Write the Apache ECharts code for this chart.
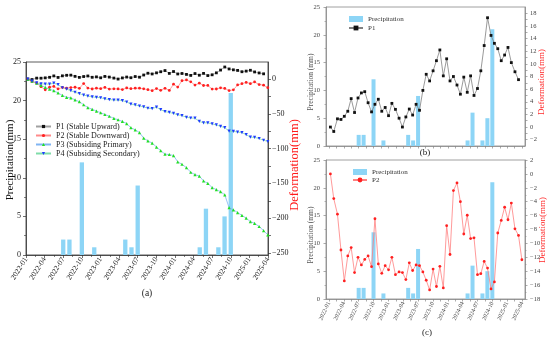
<!DOCTYPE html>
<html><head><meta charset="utf-8">
<script src="https://cdn.jsdelivr.net/npm/echarts@6/dist/echarts.min.js"></script>
<style>html,body{margin:0;padding:0;background:#fff}#c{width:550px;height:339px}</style>
</head><body><div id="c"></div>
<script>
const tickLabels = ["2022-01","2022-04","2022-07","2022-10","2023-01","2023-04","2023-07","2023-10","2024-01","2024-04","2024-07","2024-10","2025-01","2025-04"];
const precipMonths = ["2022-07","2022-08","2022-10","2022-12","2023-05","2023-06","2023-07","2024-05","2024-06","2024-08","2024-09","2024-10"];
const precipValues = [2,2,12,1,2,1,9,1,6,1,5,21];
const dates = ["2022-01-10","2022-01-31","2022-02-21","2022-03-14","2022-04-04","2022-04-25","2022-05-16","2022-06-06","2022-06-27","2022-07-18","2022-08-08","2022-08-29","2022-09-19","2022-10-10","2022-10-31","2022-11-21","2022-12-12","2023-01-02","2023-01-23","2023-02-13","2023-03-06","2023-03-27","2023-04-17","2023-05-08","2023-05-29","2023-06-19","2023-07-10","2023-07-31","2023-08-21","2023-09-11","2023-10-02","2023-10-23","2023-11-13","2023-12-04","2023-12-25","2024-01-15","2024-02-05","2024-02-26","2024-03-18","2024-04-08","2024-04-29","2024-05-20","2024-06-10","2024-07-01","2024-07-22","2024-08-12","2024-09-02","2024-09-23","2024-10-14","2024-11-04","2024-11-25","2024-12-16","2025-01-06","2025-01-27","2025-02-17","2025-03-10","2025-03-31"];
const p1 = [0.0,-0.7,1.3,1.2,1.7,2.5,4.5,2.3,4.6,5.4,5.6,3.85,2.4,3.6,4.4,2.5,3.1,1.8,3.75,2.8,1.4,0.0,1.6,2.85,1.9,3.6,2.65,5.8,8.35,7.3,8.9,10.5,12.2,8.1,10.8,7.3,8.0,6.65,5.2,7.9,5.5,8.1,5.0,6.1,8.9,12.9,17.3,14.5,13.25,12.4,10.5,11.4,12.6,10.2,8.75,7.5];
const p2 = [0.0,-3.55,-5.8,-10.95,-15.4,-11.8,-10.6,-14.2,-12.0,-13.1,-12.3,-11.8,-13.35,-6.45,-12.95,-14.3,-13.2,-13.8,-12.0,-14.5,-14.1,-14.2,-15.2,-12.8,-13.9,-13.1,-13.2,-14.1,-15.3,-16.7,-13.7,-16.2,-13.3,-16.4,-7.45,-11.6,-2.4,-1.3,-4.0,-8.65,-5.95,-9.3,-9.2,-14.5,-14.35,-12.6,-13.55,-16.55,-15.55,-8.5,-6.7,-4.8,-6.6,-4.2,-7.9,-8.85,-12.35];
const p3 = [0,-3,-6,-9,-12,-14.5,-16.8,-20,-23.5,-26.3,-27,-30,-32.6,-37,-41,-43.5,-46,-48.5,-51,-53.5,-56.6,-58.5,-61,-64,-70,-73,-77,-85,-89,-92,-97.8,-103,-108,-108.5,-110,-119,-122.5,-127.5,-134,-137.5,-139.5,-146.5,-150,-156,-159,-162,-166.5,-185,-188,-192,-196,-200,-205,-207.5,-212,-218,-224];
const p4 = [0,-3,-5.5,-7,-7.2,-7.2,-6,-8,-12.5,-14.5,-16.8,-19,-21,-23,-24.5,-25.7,-26.3,-26.9,-28.5,-29.5,-30.2,-30.2,-31,-33,-36,-37.2,-38.8,-40,-42,-42.5,-40.5,-44,-46.8,-48,-49.4,-51.5,-52.5,-55,-56,-56.3,-61,-62.9,-63,-64.5,-66,-68,-70,-75,-75.2,-76.3,-77,-80,-83.5,-84,-85.5,-88,-89.8];
const deformTicksA = [0,-50,-100,-150,-200,-250];
const deformTicksB = [-2,0,2,4,6,8,10,12,14,16,18];

const F = '"Liberation Serif","Times New Roman",serif';
const BAR = '#8dd5f6';
function monthIndex(s){
  const [y,m,d] = s.split('-').map(Number);
  const dim = new Date(y, m, 0).getDate();
  return (y-2022)*12 + (m-1) + ((d||1)-1)/dim;
}
const xs = dates.map(monthIndex);
const barData = precipMonths.map((m,i)=>[monthIndex(m+'-01'), precipValues[i]]);
const pts = arr => arr.map((v,i)=>[xs[i], v]);
const minus = v => v < 0 ? '\u2212' + Math.abs(v) : String(v);
const labelOf = v => tickLabels[Math.round(v/3)];
const quarterPos = tickLabels.map((_, i) => i*3);
const halfPos = []; quarterPos.forEach((q,i)=>{ halfPos.push(q); if (i < quarterPos.length-1) halfPos.push(q+1.5); });
const tickA = []; for (let v=0; v>=-250; v-=25) tickA.push(v);
const tickB = []; for (let v=-2; v<=18; v++) tickB.push(v);

const lineA = c => ({show:true, onZero:false, lineStyle:{color:c, width:0.8}});
const tickSt = (c,len) => ({show:true, length:len, lineStyle:{color:c, width:0.7}});

const chart = echarts.init(document.getElementById('c'));
chart.setOption({
  animation:false,
  grid:[
    {left:26, top:62, width:242, height:193, show:true, borderColor:'#333', borderWidth:0.8},
    {left:326, top:7, width:199, height:139, show:true, borderColor:'#888', borderWidth:0.8},
    {left:326, top:160, width:199, height:139, show:true, borderColor:'#888', borderWidth:0.8}
  ],
  xAxis:[
    {gridIndex:0, type:'value', min:0, max:39, interval:3, splitLine:{show:false},
     axisLine:lineA('#333'), axisTick:tickSt('#333',3),
     minorTick:{show:true, splitNumber:2, length:2, lineStyle:{color:'#333', width:0.6}},
     axisLabel:{rotate:58, margin:3, fontSize:7.5, fontFamily:F, color:'#222', formatter:labelOf}},
    {gridIndex:1, type:'value', min:-0.6, max:39.6, splitLine:{show:false},
     axisLine:lineA('#888'), axisTick:Object.assign(tickSt('#888',2.5), {customValues:halfPos}),
     axisLabel:{show:false}},
    {gridIndex:2, type:'value', min:-0.6, max:39.6, splitLine:{show:false},
     axisLine:lineA('#888'), axisTick:Object.assign(tickSt('#888',2.5), {customValues:halfPos}),
     axisLabel:{customValues:quarterPos, rotate:65, margin:3, fontSize:6, fontFamily:F, color:'#444', formatter:labelOf}}
  ],
  yAxis:[
    {gridIndex:0, type:'value', position:'left', min:0, max:25, interval:5, splitLine:{show:false},
     axisLine:lineA('#333'), axisTick:tickSt('#333',3),
     minorTick:{show:true, splitNumber:2, length:2, lineStyle:{color:'#333', width:0.6}},
     axisLabel:{fontSize:8, margin:5, fontFamily:F, color:'#222'}},
    {gridIndex:0, type:'value', position:'right', min:-253, max:24.5, splitLine:{show:false},
     axisLine:lineA('#333'), axisTick:Object.assign(tickSt('#333',3), {customValues:tickA}),
     axisLabel:{customValues:deformTicksA, formatter:minus, fontSize:8, margin:4, fontFamily:F, color:'#222'}},
    {gridIndex:1, type:'value', position:'left', min:0, max:25, interval:5, splitLine:{show:false},
     axisLine:lineA('#888'), axisTick:tickSt('#888',2.5),
     minorTick:{show:true, splitNumber:2, length:1.5, lineStyle:{color:'#888', width:0.6}},
     axisLabel:{fontSize:6.5, margin:6, fontFamily:F, color:'#444'}},
    {gridIndex:1, type:'value', position:'right', min:-3, max:19, splitLine:{show:false},
     axisLine:lineA('#888'), axisTick:Object.assign(tickSt('#888',2.5), {customValues:tickB}),
     axisLabel:{customValues:deformTicksB, formatter:minus, fontSize:6.5, margin:5, fontFamily:F, color:'#444'}},
    {gridIndex:2, type:'value', position:'left', min:0, max:25, interval:5, splitLine:{show:false},
     axisLine:lineA('#888'), axisTick:tickSt('#888',2.5),
     minorTick:{show:true, splitNumber:2, length:1.5, lineStyle:{color:'#888', width:0.6}},
     axisLabel:{fontSize:6.5, margin:6, fontFamily:F, color:'#444'}},
    {gridIndex:2, type:'value', position:'right', min:-18, max:2, interval:2, splitLine:{show:false},
     axisLine:lineA('#888'), axisTick:tickSt('#888',2.5),
     minorTick:{show:true, splitNumber:2, length:1.5, lineStyle:{color:'#888', width:0.6}},
     axisLabel:{formatter:minus, fontSize:6.5, margin:5, fontFamily:F, color:'#444'}}
  ],
  legend:[
    {left:30, top:117, orient:'vertical', itemWidth:15, itemHeight:4, itemGap:0,
     textStyle:{fontFamily:F, fontSize:8, color:'#222', lineHeight:9},
     data:['P1 (Stable Upward)','P2 (Stable Downward)','P3 (Subsiding Primary)','P4 (Subsiding Secondary)']},
    {left:343, top:10, orient:'vertical', itemWidth:14, itemHeight:6, itemGap:1,
     textStyle:{fontFamily:F, fontSize:7, color:'#333', lineHeight:8},
     data:[{name:'Precipitation', icon:'rect'}, 'P1']},
    {left:347, top:163, orient:'vertical', itemWidth:14, itemHeight:6, itemGap:0,
     textStyle:{fontFamily:F, fontSize:7, color:'#333', lineHeight:8},
     data:[{name:'Precipitation', icon:'rect'}, 'P2']}
  ],
  graphic:[
    {type:'text', x:10, y:160, rotation:Math.PI/2, style:{text:'Precipitation(mm)', fontSize:11, fontFamily:F, fill:'#111', align:'center', verticalAlign:'middle'}},
    {type:'text', x:295, y:165, rotation:Math.PI/2, style:{text:'Deformation(mm)', fontSize:12.5, fontFamily:F, fill:'#ff1a1a', align:'center', verticalAlign:'middle'}},
    {type:'text', x:147, y:293, style:{text:'(a)', fontSize:9.5, fontFamily:F, fill:'#222', align:'center', verticalAlign:'middle'}},
    {type:'text', x:311, y:82, rotation:Math.PI/2, style:{text:'Precipitation (mm)', fontSize:7.5, fontFamily:F, fill:'#555', align:'center', verticalAlign:'middle'}},
    {type:'text', x:542, y:82, rotation:Math.PI/2, style:{text:'Deformation(mm)', fontSize:9, fontFamily:F, fill:'#ff2a2a', align:'center', verticalAlign:'middle'}},
    {type:'text', x:425, y:153, style:{text:'(b)', fontSize:9, fontFamily:F, fill:'#222', align:'center', verticalAlign:'middle'}},
    {type:'text', x:311, y:235, rotation:Math.PI/2, style:{text:'Precipitation (mm)', fontSize:7.5, fontFamily:F, fill:'#555', align:'center', verticalAlign:'middle'}},
    {type:'text', x:543, y:230, rotation:Math.PI/2, style:{text:'Deformation(mm)', fontSize:9, fontFamily:F, fill:'#ff2a2a', align:'center', verticalAlign:'middle'}},
    {type:'text', x:427, y:333, style:{text:'(c)', fontSize:9, fontFamily:F, fill:'#222', align:'center', verticalAlign:'middle'}}
  ],
  series:[
    {type:'bar', name:'Precipitation', xAxisIndex:0, yAxisIndex:0, data:barData, barWidth:4.3, itemStyle:{color:BAR}},
    {type:'line', name:'P1 (Stable Upward)', xAxisIndex:0, yAxisIndex:1, data:pts(p1), symbol:'rect', symbolSize:2.8,
     itemStyle:{color:'#111'}, lineStyle:{color:'#a0a0a0', width:0.8}},
    {type:'line', name:'P2 (Stable Downward)', xAxisIndex:0, yAxisIndex:1, data:pts(p2), symbol:'circle', symbolSize:2.8,
     itemStyle:{color:'#ff2020'}, lineStyle:{color:'#ff8a8a', width:0.8}},
    {type:'line', name:'P3 (Subsiding Primary)', xAxisIndex:0, yAxisIndex:1, data:pts(p3), symbol:'triangle', symbolSize:3.2,
     itemStyle:{color:'#22e022'}, lineStyle:{color:'#80b4f2', width:0.8}},
    {type:'line', name:'P4 (Subsiding Secondary)', xAxisIndex:0, yAxisIndex:1, data:pts(p4), symbol:'path://M0,0L10,0L5,9Z', symbolSize:3.2,
     itemStyle:{color:'#1e3cff'}, lineStyle:{color:'#7fdca8', width:0.8}},
    {type:'bar', name:'Precipitation', xAxisIndex:1, yAxisIndex:2, data:barData, barWidth:4, itemStyle:{color:BAR}},
    {type:'line', name:'P1', xAxisIndex:1, yAxisIndex:3, data:pts(p1), symbol:'rect', symbolSize:2.8,
     itemStyle:{color:'#111'}, lineStyle:{color:'#808080', width:0.8}},
    {type:'bar', name:'Precipitation', xAxisIndex:2, yAxisIndex:4, data:barData, barWidth:4, itemStyle:{color:BAR}},
    {type:'line', name:'P2', xAxisIndex:2, yAxisIndex:5, data:pts(p2), symbol:'circle', symbolSize:2.8,
     itemStyle:{color:'#ff2020'}, lineStyle:{color:'#ff8080', width:0.8}}
  ]
});
</script></body></html>
